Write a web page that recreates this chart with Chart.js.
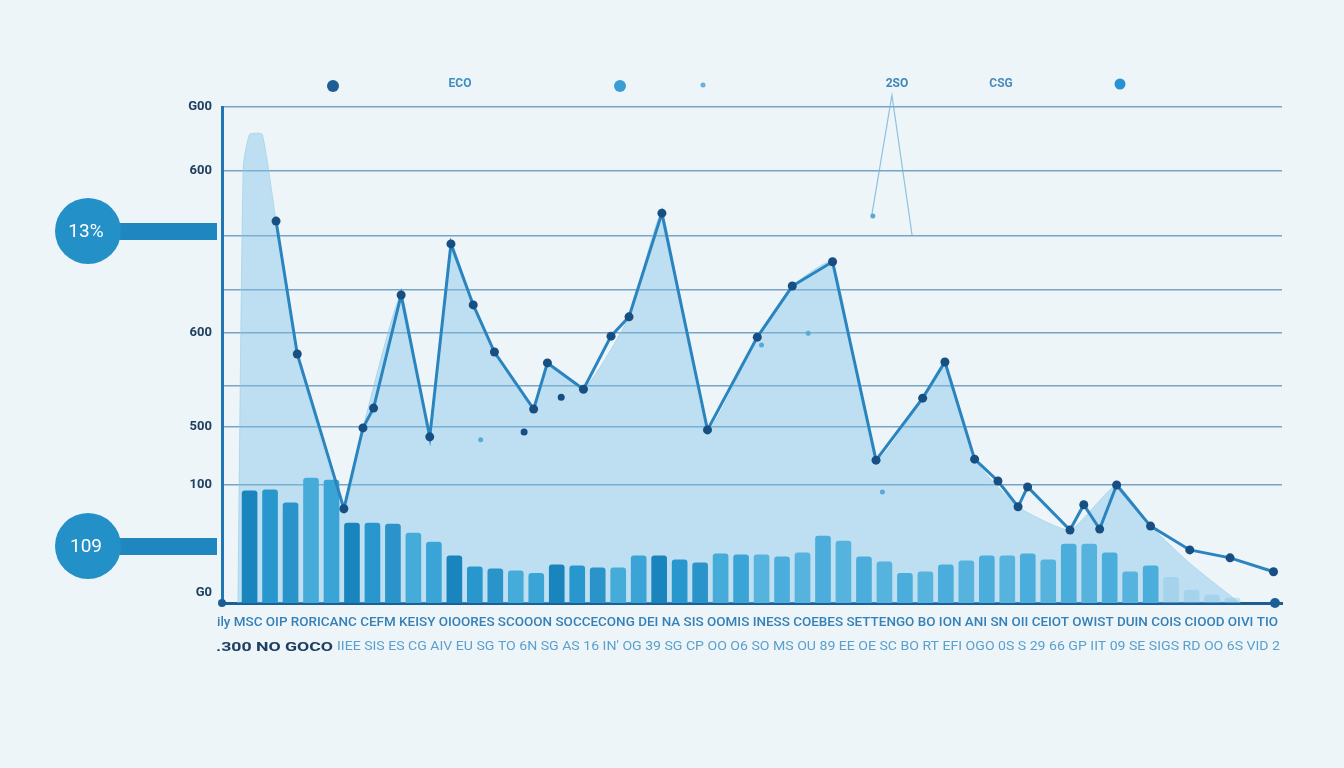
<!DOCTYPE html>
<html>
<head>
<meta charset="utf-8">
<script src="https://cdn.jsdelivr.net/npm/chart.js@4.4.1/dist/chart.umd.min.js"></script>
<style>
  html, body { margin: 0; background: #eef5f8; }
  #wrap { width: 1344px; height: 768px; position: relative; }
</style>
</head>
<body>
<div id="wrap"><canvas id="chart"></canvas></div>
<script>
/* ── DATA ───────────────────────────────────── */
const barValues = [22.6, 22.8, 20.2, 25.2, 24.8, 16.1, 16.1, 15.9, 14.1, 12.3,
                   9.5, 7.3, 6.9, 6.5, 6.0, 7.7, 7.5, 7.1, 7.1, 9.5,
                   9.5, 8.7, 8.1, 9.9, 9.7, 9.7, 9.3, 10.1, 13.5, 12.5,
                   9.3, 8.3, 6.0, 6.3, 7.7, 8.5, 9.5, 9.5, 9.9, 8.7,
                   11.9, 11.9, 10.1, 6.3, 7.5, 5.2, 2.6, 1.6, 1.0];

const lineX = [5.1, 7.1, 11.5, 13.3, 14.3, 16.9, 19.6, 21.6, 23.7, 25.7,
               29.4, 30.7, 34.1, 36.7, 38.4, 41.5, 45.8, 50.5, 53.8, 57.6,
               61.7, 66.1, 68.2, 71.0, 73.2, 75.1, 76.0, 80.0, 81.3, 82.8,
               84.4, 87.6, 91.3, 95.1, 99.2];
const lineY = [77.0, 50.2, 19.0, 35.3, 39.3, 62.1, 33.5, 72.4, 60.1, 50.6,
               39.1, 48.4, 43.1, 53.8, 57.7, 78.6, 34.9, 53.6, 63.9, 68.8,
               28.8, 41.3, 48.6, 29.0, 24.6, 19.4, 23.4, 14.7, 19.8, 14.9,
               23.8, 15.5, 10.7, 9.1, 6.3];

const areaX = [1.5, 2.0, 2.6, 3.8, 5.1, 7.1, 11.5, 13.3, 16.9, 19.6, 21.6, 23.7,
               25.7, 29.4, 30.7, 34.1, 38.4, 41.5, 45.8, 50.5, 53.8, 57.6, 61.7,
               66.1, 68.2, 71.0, 75.1, 80.0, 84.4, 87.6, 91.3, 96.0];
const areaY = [0, 88, 94.5, 94.5, 77.0, 50.2, 19.0, 35.3, 62.1, 33.5, 72.4, 60.1,
               50.6, 39.1, 48.4, 43.1, 57.7, 78.6, 34.9, 53.6, 63.9, 68.8, 28.8,
               41.3, 48.6, 29.0, 19.4, 14.7, 23.8, 15.5, 8.0, 0];

const spikeX = [61.3, 63.2, 65.1];
const spikeY = [78.2, 102.4, 74.2];

const strayX = [28.5, 32.0];
const strayY = [34.5, 41.5];
const paleX = [24.4, 50.9, 55.3, 62.3, 61.4];
const paleY = [32.9, 52.0, 54.4, 22.4, 78.0];

const yTickValues = [2, 23.8, 35.5, 43.8, 54.4, 63.1, 74.0, 87.1, 100];
const yTickLabels = ['G0', '100', '500', '', '600', '', '', '600', 'G00'];

const legendLabels = ['ECO', '2SO', 'CSG'];
const calloutLabels = ['13%', '109'];

const xRowTop = 'ily MSC OIP RORICANC CEFM KEISY OIOORES SCOOON SOCCECONG DEI NA SIS OOMIS INESS COEBES SETTENGO BO ION ANI SN OII CEIOT OWIST DUIN COIS CIOOD OIVI TIO';
const xRowBottomDark = '.300 NO GOCO';
const xRowBottom = 'IIEE SIS ES CG AIV EU SG TO 6N SG AS 16 IN\' OG 39 SG CP OO O6 SO MS OU 89 EE OE SC BO RT EFI OGO 0S S 29 66 GP IIT 09 SE SIGS RD OO 6S VID 2';

/* ── STYLE ──────────────────────────────────── */
const barPalette = ['#1a84bd', '#2897cd', '#2a93c9', '#45acd9', '#3aa4d6'];
const pts = (xs, ys) => xs.map((x, i) => ({ x, y: ys[i] }));

function fitText(ctx, text, x0, x1, y, font, color) {
    ctx.save();
    ctx.font = font;
    const w = ctx.measureText(text).width;
    ctx.translate(x0, y);
    ctx.scale((x1 - x0) / w, 1);
    ctx.fillStyle = color;
    ctx.textAlign = 'left';
    ctx.textBaseline = 'alphabetic';
    ctx.fillText(text, 0, 0);
    ctx.restore();
}

function dot(ctx, x, y, r, color) {
    ctx.beginPath();
    ctx.arc(x, y, r, 0, Math.PI * 2);
    ctx.fillStyle = color;
    ctx.fill();
}

/* ── DECORATION PLUGIN ──────────────────────── */
const decor = {
    id: 'decor',
    afterDraw(chart) {
        const { ctx, chartArea: a } = chart;

        // top legend row
        dot(ctx, 333, 86, 6, '#1d5f94');
        dot(ctx, 620, 86, 6, '#3a9ed3');
        dot(ctx, 703, 85, 2.5, '#6ab0d8');
        dot(ctx, 1120, 84, 5.5, '#2793d0');
        ctx.save();
        ctx.font = 'bold 12px Roboto';
        ctx.textAlign = 'center';
        ctx.textBaseline = 'middle';
        ctx.fillStyle = '#3d8ec4';
        ctx.fillText(legendLabels[0], 460, 84);
        ctx.fillStyle = '#3f86b8';
        ctx.fillText(legendLabels[1], 897, 84);
        ctx.fillStyle = '#4a8cc0';
        ctx.fillText(legendLabels[2], 1001, 84);
        ctx.restore();

        // callouts on the left
        const callY = [231, 546];
        callY.forEach((cy, i) => {
            ctx.fillStyle = '#1f86c0';
            ctx.fillRect(100, cy - 8, 117, 17);
            dot(ctx, 88, cy, 33, '#2390c8');
            ctx.save();
            ctx.font = '19px Roboto';
            ctx.fillStyle = '#ffffff';
            ctx.textAlign = 'center';
            ctx.textBaseline = 'middle';
            ctx.fillText(calloutLabels[i], 86, cy + 1);
            ctx.restore();
        });

        // axis end dots
        dot(ctx, a.left, a.bottom, 4, '#1b5f96');
        dot(ctx, 1275, a.bottom, 5, '#1b5f96');

        // x label rows
        fitText(ctx, xRowTop, 217, 1278, 626, '500 13px Roboto', '#3580b8');
        fitText(ctx, xRowBottomDark, 216, 333, 651, 'bold 13px Roboto', '#1d3f63');
        fitText(ctx, xRowBottom, 337, 1280, 650, '12px Roboto', '#5a9fcd');
    }
};

/* ── CHART ──────────────────────────────────── */
new Chart(document.getElementById('chart'), {
    type: 'bar',
    data: {
        datasets: [
            {
                type: 'line', label: 'spike', xAxisID: 'x', order: 5,
                data: pts(spikeX, spikeY),
                borderColor: 'rgba(120,180,215,0.8)', borderWidth: 1.2,
                pointRadius: 0, fill: false, tension: 0, clip: false,
            },
            {
                type: 'line', label: 'area', xAxisID: 'x', order: 4,
                data: pts(areaX, areaY),
                borderColor: 'rgba(150,205,232,0.6)', borderWidth: 1,
                backgroundColor: 'rgba(124,192,230,0.42)',
                pointRadius: 0, fill: 'origin', tension: 0.15,
            },
            {
                label: 'bars', xAxisID: 'xb', order: 3,
                data: barValues.map((v, i) => ({ x: i, y: v })),
                backgroundColor: ctx => {
                    const i = ctx.dataIndex;
                    if (i >= barValues.length - 4) return 'rgba(120,190,225,0.35)';
                    if (i > 24) return i % 2 ? '#55b3de' : '#4aaddb';
                    return barPalette[i % barPalette.length];
                },
                borderRadius: 3, borderSkipped: 'bottom',
                barThickness: 15,
            },
            {
                type: 'line', label: 'series', xAxisID: 'x', order: 2,
                data: pts(lineX, lineY),
                borderColor: '#2a84bf', borderWidth: 3,
                pointRadius: 4.5, pointBackgroundColor: '#174f82',
                pointBorderWidth: 0, fill: false, tension: 0,
            },
            {
                type: 'scatter', label: 'stray', xAxisID: 'x', order: 1,
                data: pts(strayX, strayY),
                pointRadius: 3.5, backgroundColor: '#174f82', pointBorderWidth: 0,
            },
            {
                type: 'scatter', label: 'pale', xAxisID: 'x', order: 1,
                data: pts(paleX, paleY),
                pointRadius: 2.5, backgroundColor: '#5aa8d6', pointBorderWidth: 0,
            }
        ]
    },
    options: {
        responsive: true, maintainAspectRatio: false, animation: false,
        layout: { padding: { top: 107, right: 62, bottom: 165, left: 0 } },
        plugins: { legend: { display: false }, tooltip: { enabled: false } },
        scales: {
            xb: {
                type: 'linear', min: -0.98, max: 50.78, position: 'bottom',
                offset: false,
                grid: { display: false, drawTicks: false, offset: false },
                border: { color: '#1b5f96', width: 3 },
                ticks: { display: false },
                afterFit(s) { s.height = 0; }
            },
            x: {
                type: 'linear', min: 0, max: 100, display: false,
                offset: false, grid: { offset: false }
            },
            y: {
                min: 0, max: 100,
                afterBuildTicks(s) { s.ticks = yTickValues.map(v => ({ value: v })); },
                afterFit(s) { s.width = 222; },
                ticks: {
                    callback: (v, i) => yTickLabels[i],
                    color: '#1e3f60', padding: 10,
                    font: { family: 'Roboto', weight: 'bold', size: 13 }
                },
                grid: {
                    color: ctx => (ctx.tick && ctx.tick.value === 2) ? 'rgba(0,0,0,0)' : 'rgba(70,130,175,0.7)',
                    lineWidth: 1.5, drawTicks: false
                },
                border: { color: '#1f76b2', width: 3 }
            }
        }
    },
    plugins: [decor]
});
</script>
</body>
</html>
